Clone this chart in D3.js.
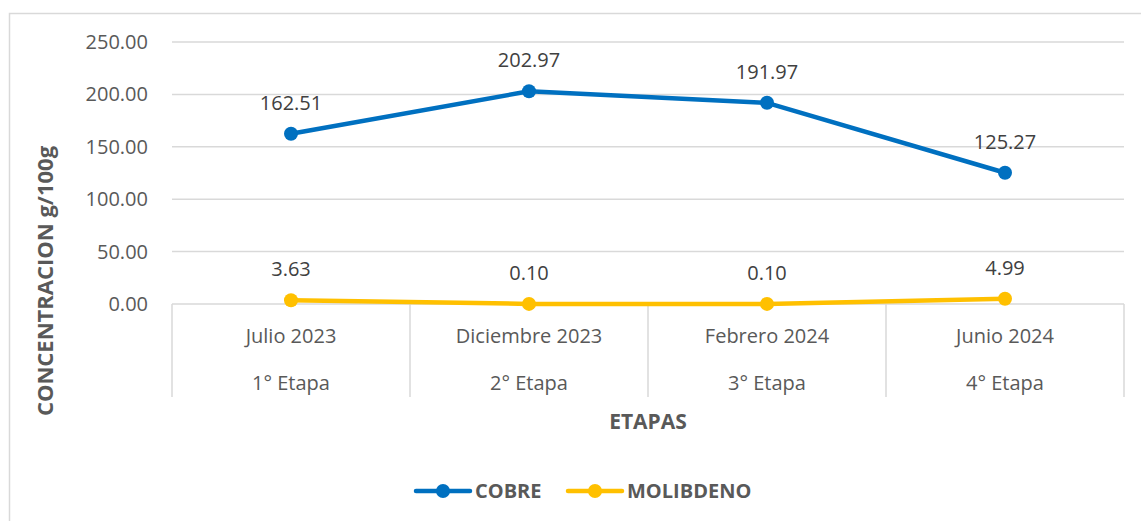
<!DOCTYPE html>
<html>
<head>
<meta charset="utf-8">
<script src="https://cdn.jsdelivr.net/npm/d3@7"></script>
<style>
  body { margin: 0; background: #fff; }
  text { font-family: "Open Sans", "Noto Sans", sans-serif; }
</style>
</head>
<body>
<div id="chart"></div>
<script>
// Chart data
var fechas = ["Julio 2023", "Diciembre 2023", "Febrero 2024", "Junio 2024"];
var etapas = ["1° Etapa", "2° Etapa", "3° Etapa", "4° Etapa"];
var cobre = [162.51, 202.97, 191.97, 125.27];
var molibdeno = [3.63, 0.10, 0.10, 4.99];
var yTicks = [0, 50, 100, 150, 200, 250];

var series = [
  { name: "COBRE", values: cobre, color: "#0070C0" },
  { name: "MOLIBDENO", values: molibdeno, color: "#FFC000" }
];

var W = 1141, H = 521;
var margin = { top: 42, right: 17, bottom: 217, left: 172 };
var width = W - margin.left - margin.right;
var height = H - margin.top - margin.bottom;

var svg = d3.select("#chart").append("svg")
  .attr("width", W)
  .attr("height", H);

// chart border (left and top visible)
svg.append("rect")
  .attr("x", 9.5).attr("y", 13.5)
  .attr("width", W + 10).attr("height", H + 10)
  .attr("fill", "none")
  .attr("stroke", "#D9D9D9")
  .attr("stroke-width", 1.5);

var g = svg.append("g")
  .attr("transform", "translate(" + margin.left + "," + margin.top + ")");

var x = d3.scaleBand().domain(fechas).range([0, width]);
var y = d3.scaleLinear().domain([0, 250]).range([height, 0]);

// gridlines
g.selectAll(".grid")
  .data(yTicks)
  .enter().append("line")
  .attr("x1", 0).attr("x2", width)
  .attr("y1", function (d) { return y(d); })
  .attr("y2", function (d) { return y(d); })
  .attr("stroke", "#D9D9D9")
  .attr("stroke-width", 1.5);

// y axis labels
g.append("g")
  .call(d3.axisLeft(y).tickValues(yTicks).tickSize(0).tickPadding(24)
    .tickFormat(d3.format(".2f")))
  .call(function (a) { a.select(".domain").remove(); })
  .selectAll("text")
  .attr("fill", "#595959")
  .style("font-size", "20px")
  .style("font-family", "'Open Sans', sans-serif");

// category dividers
var bounds = fechas.map(function (d) { return x(d); }).concat([width]);
g.selectAll(".div")
  .data(bounds)
  .enter().append("line")
  .attr("x1", function (d) { return d; })
  .attr("x2", function (d) { return d; })
  .attr("y1", height).attr("y2", height + 93)
  .attr("stroke", "#D9D9D9")
  .attr("stroke-width", 1.5);

// category labels (two levels)
g.selectAll(".fecha")
  .data(fechas)
  .enter().append("text")
  .attr("x", function (d) { return x(d) + x.bandwidth() / 2; })
  .attr("y", height + 39)
  .attr("text-anchor", "middle")
  .attr("fill", "#595959")
  .style("font-size", "20px")
  .text(function (d) { return d; });

g.selectAll(".etapa")
  .data(etapas)
  .enter().append("text")
  .attr("x", function (d, i) { return x(fechas[i]) + x.bandwidth() / 2; })
  .attr("y", height + 86)
  .attr("text-anchor", "middle")
  .attr("fill", "#595959")
  .style("font-size", "20px")
  .text(function (d) { return d; });

// axis titles
svg.append("text")
  .attr("x", margin.left + width / 2)
  .attr("y", 429)
  .attr("text-anchor", "middle")
  .attr("fill", "#595959")
  .style("font-size", "21px")
  .style("font-weight", "bold")
  .text("ETAPAS");

svg.append("text")
  .attr("transform", "translate(53,281) rotate(-90)")
  .attr("text-anchor", "middle")
  .attr("fill", "#595959")
  .style("font-size", "22px")
  .style("font-weight", "bold")
  .text("CONCENTRACION g/100g");

// lines and markers
var line = d3.line()
  .x(function (d, i) { return x(fechas[i]) + x.bandwidth() / 2; })
  .y(function (d) { return y(d); });

series.forEach(function (s) {
  g.append("path")
    .datum(s.values)
    .attr("d", line)
    .attr("fill", "none")
    .attr("stroke", s.color)
    .attr("stroke-width", 4.5)
    .attr("stroke-linejoin", "round")
    .attr("stroke-linecap", "round");

  g.selectAll(null)
    .data(s.values)
    .enter().append("circle")
    .attr("cx", function (d, i) { return x(fechas[i]) + x.bandwidth() / 2; })
    .attr("cy", function (d) { return y(d); })
    .attr("r", 7)
    .attr("fill", s.color);

  g.selectAll(null)
    .data(s.values)
    .enter().append("text")
    .attr("x", function (d, i) { return x(fechas[i]) + x.bandwidth() / 2; })
    .attr("y", function (d) { return y(d) - 24; })
    .attr("text-anchor", "middle")
    .attr("fill", "#404040")
    .style("font-size", "20px")
    .text(function (d) { return d.toFixed(2); });
});

// legend
var legend = svg.append("g").attr("transform", "translate(416,491)");
var lx = [0, 152];
series.forEach(function (s, i) {
  var lg = legend.append("g").attr("transform", "translate(" + lx[i] + ",0)");
  lg.append("line")
    .attr("x1", 0).attr("x2", 54)
    .attr("y1", 0).attr("y2", 0)
    .attr("stroke", s.color)
    .attr("stroke-width", 4.5)
    .attr("stroke-linecap", "round");
  lg.append("circle")
    .attr("cx", 27).attr("cy", 0).attr("r", 7)
    .attr("fill", s.color);
  lg.append("text")
    .attr("x", 59).attr("y", 7)
    .attr("fill", "#595959")
    .style("font-size", "20px")
    .style("font-weight", "bold")
    .text(s.name);
});
</script>
</body>
</html>
